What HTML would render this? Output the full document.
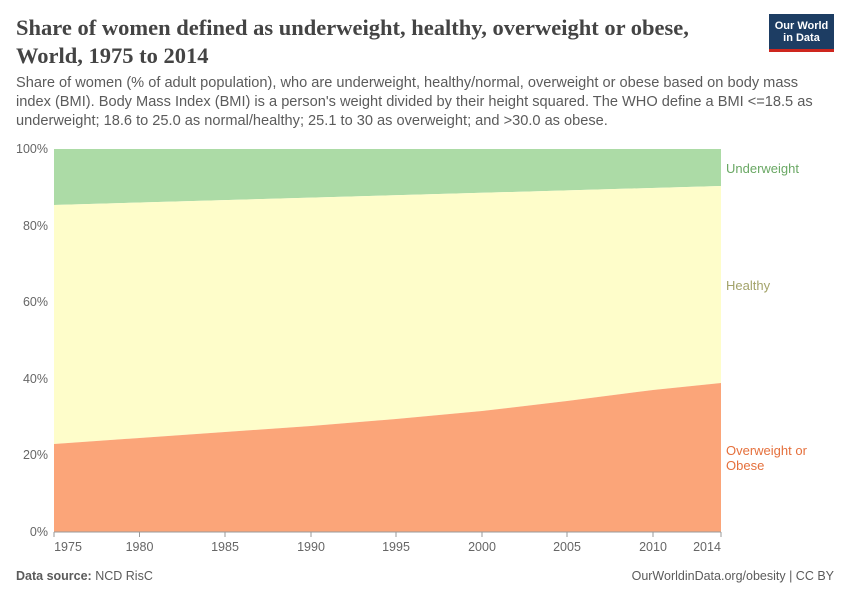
<!DOCTYPE html>
<html><head><meta charset="utf-8"><style>
body{margin:0;background:#fff;width:850px;height:600px;overflow:hidden;font-family:"Liberation Sans",sans-serif}
.t{position:absolute;left:16px;top:14px;font-family:"Liberation Serif",serif;font-size:22.5px;font-weight:bold;color:#444;line-height:28px;white-space:nowrap}
.s{position:absolute;left:16px;top:74px;font-size:14.6px;color:#5b5b5b;line-height:19px;width:820px}
.logo{position:absolute;left:769px;top:14px;width:65px;height:38px;background:#1d3d63;color:#fff;font-size:11px;line-height:12px;text-align:center;padding-top:6px;box-sizing:border-box;border-bottom:3px solid #ce261e;font-weight:bold}
.f{position:absolute;top:569px;font-size:12.5px;color:#5b5b5b}
</style></head><body>
<div class="t">Share of women defined as underweight, healthy, overweight or obese,<br>World, 1975 to 2014</div>
<div class="s">Share of women (% of adult population), who are underweight, healthy/normal, overweight or obese based on body mass index (BMI). Body Mass Index (BMI) is a person's weight divided by their height squared. The WHO define a BMI &lt;=18.5 as underweight; 18.6 to 25.0 as normal/healthy; 25.1 to 30 as overweight; and &gt;30.0 as obese.</div>
<div class="logo">Our World<br>in Data</div>
<svg width="850" height="600" style="position:absolute;left:0;top:0" font-family="Liberation Sans, sans-serif">
<polygon points="54,149 721,149 721,186 54,205" fill="#acdba6"/>
<polygon points="54,205 721,186 721,383 653,390 567,401 482,411 396,419 311,426 225,432 139.5,438 54,444" fill="#fefdca"/>
<polygon points="54,444 139.5,438 225,432 311,426 396,419 482,411 567,401 653,390 721,383 721,532 54,532" fill="#fba579"/>
<line x1="54" x2="721" y1="532" y2="532" stroke="#999"/>
<g font-size="12.5" fill="#666" text-anchor="end">
<text x="48" y="153">100%</text><text x="48" y="230">80%</text><text x="48" y="306">60%</text><text x="48" y="383">40%</text><text x="48" y="459">20%</text><text x="48" y="536">0%</text></g>
<g stroke="#999">
<line x1="54" x2="54" y1="532" y2="537"/><line x1="139.5" x2="139.5" y1="532" y2="537"/><line x1="225" x2="225" y1="532" y2="537"/><line x1="311" x2="311" y1="532" y2="537"/><line x1="396" x2="396" y1="532" y2="537"/><line x1="482" x2="482" y1="532" y2="537"/><line x1="567" x2="567" y1="532" y2="537"/><line x1="653" x2="653" y1="532" y2="537"/><line x1="721" x2="721" y1="532" y2="537"/></g>
<g font-size="12.5" fill="#666" text-anchor="middle">
<text x="68" y="551">1975</text><text x="139.5" y="551">1980</text><text x="225" y="551">1985</text><text x="311" y="551">1990</text><text x="396" y="551">1995</text><text x="482" y="551">2000</text><text x="567" y="551">2005</text><text x="653" y="551">2010</text><text x="707" y="551">2014</text></g>
<g font-size="13">
<text x="726" y="173" fill="#6aa864">Underweight</text>
<text x="726" y="290" fill="#a3a36a">Healthy</text>
<text x="726" y="455" fill="#e5703c">Overweight or</text>
<text x="726" y="470" fill="#e5703c">Obese</text></g>
</svg>
<div class="f" style="left:16px"><b>Data source:</b> NCD RisC</div>
<div class="f" style="right:16px">OurWorldinData.org/obesity | CC BY</div>
</body></html>
